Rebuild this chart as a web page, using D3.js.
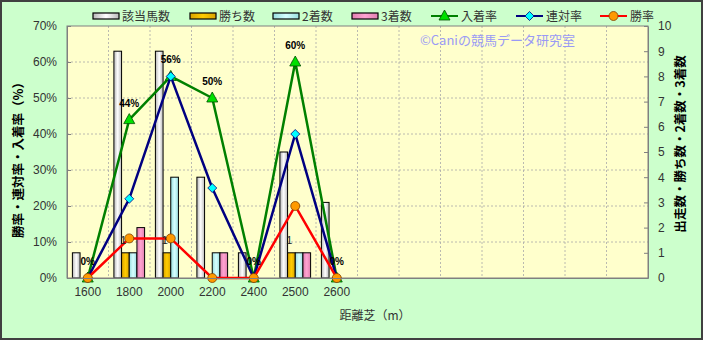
<!DOCTYPE html>
<html>
<head>
<meta charset="utf-8">
<script src="https://cdn.jsdelivr.net/npm/d3@7"></script>
<style>
  body { margin: 0; background: #fff; }
  text { font-family: "Liberation Sans", "Noto Sans CJK JP", sans-serif; }
  .jp { font-family: "Noto Sans CJK JP", "Liberation Sans", sans-serif; }
</style>
</head>
<body>
<svg id="chart"></svg>
<script>
// distances (only the first 7 of the 14 slots are used)
const distances = ['1600', '1800', '2000', '2200', '2400', '2500', '2600']
const slotCount = 14

// counts (right axis)
const runners = [1, 9, 9, 4, 1, 5, 3]
const wins = [0, 1, 1, 0, 0, 1, 0]
const seconds = [0, 1, 4, 1, 0, 1, 0]
const thirds = [0, 2, 0, 1, 0, 1, 0]

// rates in % (left axis)
const placeRate = [0, 44, 56, 50, 0, 60, 0]
const rentaiRate = [0, 22, 56, 25, 0, 40, 0]
const winRate = [0, 11, 11, 0, 0, 20, 0]

const leftTicks = [0, 10, 20, 30, 40, 50, 60, 70]
const rightTicks = [0, 1, 2, 3, 4, 5, 6, 7, 8, 9, 10]

const barSeries = [
  { name: '該当馬数', values: runners, edge: '#b8b8b8', mid: '#ffffff' },
  { name: '勝ち数', values: wins, edge: '#d9a300', mid: '#ffcc00' },
  { name: '2着数', values: seconds, edge: '#99dede', mid: '#d6ffff' },
  { name: '3着数', values: thirds, edge: '#e07fb0', mid: '#ffa3d1' }
]
const lineSeries = [
  { name: '入着率', values: placeRate, color: '#008000', marker: 'triangle', fill: '#00e000', stroke: '#005000' },
  { name: '連対率', values: rentaiRate, color: '#000080', marker: 'diamond', fill: '#00ffff', stroke: '#000080' },
  { name: '勝率', values: winRate, color: '#ff0000', marker: 'circle', fill: '#ff9900', stroke: '#804000' }
]

const width = 703
const height = 340
const plot = { left: 67, top: 26, right: 648, bottom: 278 }

const svg = d3.select('#chart')
    .attr('width', width)
    .attr('height', height)

// gradients for the bars
const defs = svg.append('defs')
barSeries.forEach((s, i) => {
  let g = defs.append('linearGradient')
      .attr('id', 'grad' + i)
      .attr('x1', '0%').attr('x2', '100%').attr('y1', '0%').attr('y2', '0%')
  g.append('stop').attr('offset', '0%').attr('stop-color', s.edge)
  g.append('stop').attr('offset', '50%').attr('stop-color', s.mid)
  g.append('stop').attr('offset', '100%').attr('stop-color', s.edge)
})

svg.append('rect')
    .attr('x', 1).attr('y', 1)
    .attr('width', width - 2).attr('height', height - 2)
    .attr('fill', '#ccffcc')
    .attr('stroke', '#404040')
    .attr('stroke-width', 2)

svg.append('rect')
    .attr('x', plot.left).attr('y', plot.top)
    .attr('width', plot.right - plot.left).attr('height', plot.bottom - plot.top)
    .attr('fill', '#ffffcc')

let xScale = d3.scaleBand()
    .domain(d3.range(slotCount))
    .range([plot.left, plot.right])

let groupScale = d3.scaleBand()
    .domain(d3.range(barSeries.length))
    .range([-xScale.step() * 0.37, xScale.step() * 0.37])

let yLeft = d3.scaleLinear().domain([0, 70]).range([plot.bottom, plot.top])
let yRight = d3.scaleLinear().domain([0, 10]).range([plot.bottom, plot.top])

const cx = i => xScale(i) + xScale.bandwidth() / 2

// grid
svg.append('g')
  .selectAll('line')
  .data(leftTicks.slice(1, -1))
  .enter()
  .append('line')
    .attr('x1', plot.left).attr('x2', plot.right)
    .attr('y1', d => yLeft(d)).attr('y2', d => yLeft(d))
    .attr('stroke', '#a8a8a8')
    .attr('stroke-dasharray', '2,2')
    .attr('stroke-width', 0.8)

svg.append('g')
  .selectAll('line')
  .data(d3.range(1, slotCount))
  .enter()
  .append('line')
    .attr('x1', d => xScale(d)).attr('x2', d => xScale(d))
    .attr('y1', plot.top).attr('y2', plot.bottom)
    .attr('stroke', '#a8a8a8')
    .attr('stroke-dasharray', '2,2')
    .attr('stroke-width', 0.8)

svg.append('text')
    .attr('class', 'jp')
    .attr('x', 420).attr('y', 45)
    .attr('font-size', 13)
    .attr('fill', '#9a9af5')
    .text('©Caniの競馬データ研究室')

// bars
barSeries.forEach((s, si) => {
  svg.append('g')
    .selectAll('rect')
    .data(s.values)
    .enter()
    .append('rect')
      .attr('x', (d, i) => cx(i) + groupScale(si))
      .attr('y', d => yRight(d))
      .attr('width', groupScale.bandwidth())
      .attr('height', d => plot.bottom - yRight(d))
      .attr('fill', 'url(#grad' + si + ')')
      .attr('stroke', '#000')
      .attr('stroke-width', 1)
})

// plot border
svg.append('rect')
    .attr('x', plot.left).attr('y', plot.top)
    .attr('width', plot.right - plot.left).attr('height', plot.bottom - plot.top)
    .attr('fill', 'none')
    .attr('stroke', '#808080')

// lines + markers
function drawMarker (g, type, x, y, s) {
  if (type === 'triangle') {
    g.append('path')
      .attr('d', `M${x},${y - 6}L${x + 5.5},${y + 4}L${x - 5.5},${y + 4}Z`)
      .attr('fill', s.fill).attr('stroke', s.stroke).attr('stroke-width', 0.8)
  } else if (type === 'diamond') {
    g.append('path')
      .attr('d', `M${x},${y - 4.5}L${x + 4.5},${y}L${x},${y + 4.5}L${x - 4.5},${y}Z`)
      .attr('fill', s.fill).attr('stroke', s.stroke).attr('stroke-width', 0.8)
  } else {
    g.append('circle')
      .attr('cx', x).attr('cy', y).attr('r', 4.5)
      .attr('fill', s.fill).attr('stroke', s.stroke).attr('stroke-width', 0.8)
  }
}

lineSeries.forEach(s => {
  let line = d3.line()
      .x((d, i) => cx(i))
      .y(d => yLeft(d))
  let g = svg.append('g')
  g.append('path')
      .datum(s.values)
      .attr('d', line)
      .attr('fill', 'none')
      .attr('stroke', s.color)
      .attr('stroke-width', 2.5)
  s.values.forEach((d, i) => drawMarker(g, s.marker, cx(i), yLeft(d), s))
})

// labels on 入着率
svg.append('g')
  .selectAll('text')
  .data(placeRate)
  .enter()
  .append('text')
    .attr('x', (d, i) => cx(i))
    .attr('y', d => yLeft(d) - 13)
    .attr('text-anchor', 'middle')
    .attr('font-size', 10)
    .attr('font-weight', 'bold')
    .attr('fill', '#000')
    .text(d => Math.round(d) + '%')

// labels on 勝ち数
svg.append('g')
  .selectAll('text')
  .data(wins.map((d, i) => ({ d, i })).filter(o => o.d > 0))
  .enter()
  .append('text')
    .attr('x', o => cx(o.i) + groupScale(1) + groupScale.bandwidth() / 2 - 2)
    .attr('y', o => yRight(o.d) - 9)
    .attr('text-anchor', 'middle')
    .attr('font-size', 11)
    .attr('fill', '#222')
    .text(o => o.d)

// axes
let xAxis = d3.axisBottom(xScale)
    .tickSize(0)
    .tickPadding(9)
    .tickFormat(i => distances[i] || '')
svg.append('g')
    .attr('transform', `translate(0,${plot.bottom})`)
    .call(xAxis)
    .call(g => g.select('.domain').attr('stroke', '#808080'))
    .call(g => g.selectAll('text').attr('font-size', 12).attr('fill', '#333').attr('font-family', null))

let leftAxis = d3.axisLeft(yLeft)
    .tickValues(leftTicks)
    .tickSizeInner(-4)
    .tickSizeOuter(0)
    .tickPadding(10)
    .tickFormat(d => d + '%')
svg.append('g')
    .attr('transform', `translate(${plot.left},0)`)
    .call(leftAxis)
    .call(g => g.selectAll('.domain, line').attr('stroke', '#808080'))
    .call(g => g.selectAll('text').attr('font-size', 12).attr('fill', '#333').attr('font-family', null))

let rightAxis = d3.axisRight(yRight)
    .tickValues(rightTicks)
    .tickSizeInner(-4)
    .tickSizeOuter(0)
    .tickPadding(10)
svg.append('g')
    .attr('transform', `translate(${plot.right},0)`)
    .call(rightAxis)
    .call(g => g.selectAll('.domain, line').attr('stroke', '#808080'))
    .call(g => g.selectAll('text').attr('font-size', 12).attr('fill', '#333').attr('font-family', null))

// axis titles
svg.append('text')
    .attr('class', 'jp')
    .attr('transform', 'translate(23,157) rotate(-90)')
    .attr('text-anchor', 'middle')
    .attr('font-size', 12.5)
    .attr('font-weight', 'bold')
    .text('勝率・連対率・入着率（%）')

svg.append('text')
    .attr('class', 'jp')
    .attr('transform', 'translate(685,144) rotate(-90)')
    .attr('text-anchor', 'middle')
    .attr('font-size', 12.5)
    .attr('font-weight', 'bold')
    .text('出走数・勝ち数・2着数・3着数')

svg.append('text')
    .attr('class', 'jp')
    .attr('x', 375).attr('y', 320)
    .attr('text-anchor', 'middle')
    .attr('font-size', 12)
    .attr('fill', '#333')
    .text('距離芝（m）')

// legend
let legend = svg.append('g')
let barLegendX = [93, 190, 273, 352]
barSeries.forEach((s, i) => {
  legend.append('rect')
      .attr('x', barLegendX[i]).attr('y', 13)
      .attr('width', 26).attr('height', 6)
      .attr('fill', 'url(#grad' + i + ')')
      .attr('stroke', '#000')
      .attr('stroke-width', 1.2)
  legend.append('text')
      .attr('class', 'jp')
      .attr('x', barLegendX[i] + 29).attr('y', 21)
      .attr('font-size', 12)
      .attr('fill', '#333')
      .text(s.name)
})
let lineLegendX = [431, 516, 600]
lineSeries.forEach((s, i) => {
  let x0 = lineLegendX[i]
  legend.append('line')
      .attr('x1', x0).attr('x2', x0 + 27)
      .attr('y1', 16).attr('y2', 16)
      .attr('stroke', s.color)
      .attr('stroke-width', 2)
  let g = legend.append('g')
  drawMarker(g, s.marker, x0 + 13.5, 16, s)
  legend.append('text')
      .attr('class', 'jp')
      .attr('x', x0 + 30).attr('y', 21)
      .attr('font-size', 12)
      .attr('fill', '#333')
      .text(s.name)
})
</script>
</body>
</html>
